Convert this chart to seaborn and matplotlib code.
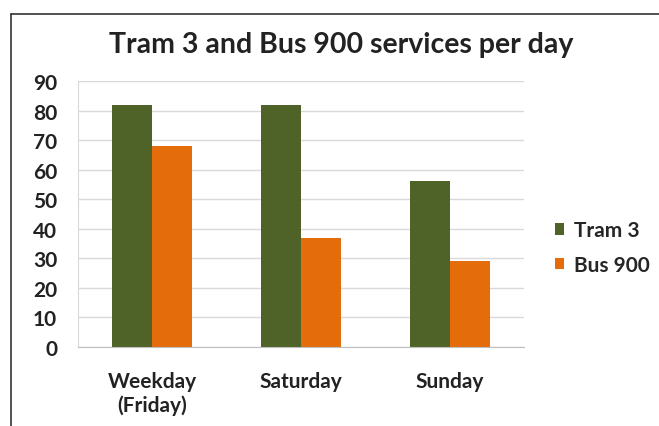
import pandas as pd
import matplotlib.pyplot as plt
import seaborn as sns
from matplotlib.lines import Line2D

days = ['Weekday\n(Friday)', 'Saturday', 'Sunday']
tram3 = [82, 82, 56]
bus900 = [68, 37, 29]
series_names = ['Tram 3', 'Bus 900']
y_ticks = [0, 10, 20, 30, 40, 50, 60, 70, 80, 90]

df = pd.DataFrame({'Day': days * 2,
                   'Service': [series_names[0]] * 3 + [series_names[1]] * 3,
                   'Services': tram3 + bus900})

sns.set_style('white')
plt.rcParams['font.family'] = ['Lato', 'DejaVu Sans']

fig = plt.figure(figsize=(6.59, 4.27), dpi=100)
ax = fig.add_axes([78 / 659, 1 - 348 / 427, 446 / 659, 266 / 427])

sns.barplot(data=df, x='Day', y='Services', hue='Service', ax=ax,
            palette={'Tram 3': '#4F6228', 'Bus 900': '#E46C0A'},
            width=0.54, saturation=1, edgecolor='none')

ax.set_ylim(0, 90)
ax.set_xlim(-0.5, 2.5)
ax.set_yticks(y_ticks)
ax.set_yticklabels([str(t) for t in y_ticks], fontweight='bold', fontsize=15, color='#222222')
ax.set_xticks(range(len(days)))
ax.set_xticklabels(days, fontweight='bold', fontsize=15, color='#222222')
ax.tick_params(axis='x', length=0, pad=17)
ax.tick_params(axis='y', length=0, pad=15)
ax.set_xlabel('')
ax.set_ylabel('')
ax.yaxis.grid(True, color='#d9d9d9', linewidth=1)
ax.set_axisbelow(True)
for s in ['top', 'right']:
    ax.spines[s].set_visible(False)
ax.spines['left'].set_color('#d9d9d9')
ax.spines['bottom'].set_color('#bfbfbf')

fig.text(341 / 659, 1 - 45 / 427, 'Tram 3 and Bus 900 services per day',
         ha='center', va='center', fontsize=20.5, fontweight='bold', color='#222222')

leg = ax.legend(loc='center left', bbox_to_anchor=(1.05, 0.373), frameon=False,
                prop={'weight': 'bold', 'size': 15}, handlelength=0.45, handleheight=0.45,
                handletextpad=0.5, labelspacing=0.7, borderaxespad=0)

# outer frame like the original screenshot
fig.add_artist(Line2D([11 / 659, 1], [1 - 15 / 427] * 2, color='#333333', linewidth=1.2))
fig.add_artist(Line2D([11 / 659] * 2, [0, 1 - 15 / 427], color='#333333', linewidth=1.2))

plt.savefig('out.png', dpi=100)
